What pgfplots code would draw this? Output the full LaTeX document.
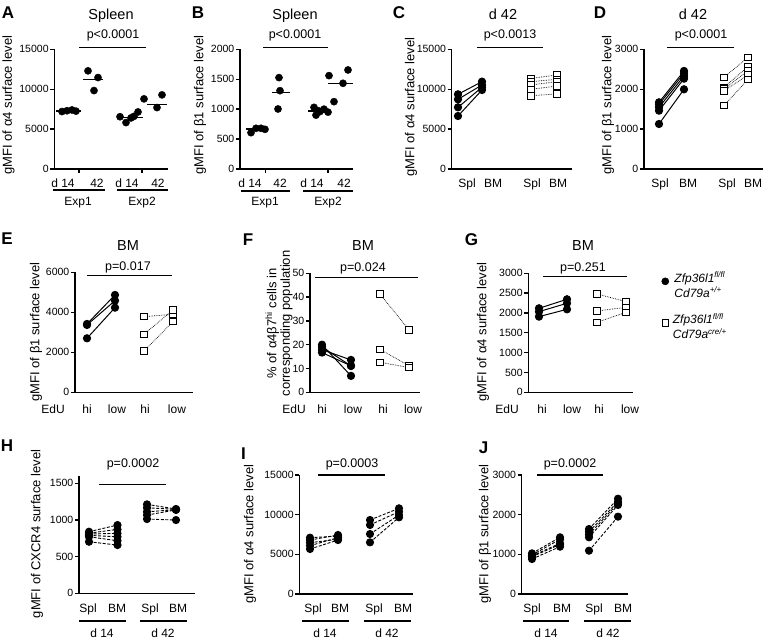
\documentclass[border=0pt]{standalone}
\usepackage{fontspec}
\setmainfont{Liberation Sans}
\setsansfont{Liberation Sans}
\usepackage{pgfplots}
\pgfplotsset{compat=1.18}
\pgfplotsset{
  prism/.style={scale only axis, anchor=south west, axis lines=left,
    axis line style={-, line width=1.3pt},
    tick align=outside, major tick length=4pt,
    tick style={black, line width=1.3pt},
    clip=false, ymin=0, xtick=\empty, scaled y ticks=false,
    yticklabel style={font=\fontsize{10.5}{12}\selectfont, inner sep=1.5pt},
    /pgf/number format/assume math mode=true,
    /pgf/number format/1000 sep={}},
  dot/.style={only marks, mark=*, mark size=3.6pt, black},
  meanl/.style={black, line width=1.4pt, no marks},
  g1/.style={black, line width=1pt, solid, mark=*, mark size=3.6pt, mark options={solid}},
  g2/.style={black, line width=0.7pt, densely dotted, mark=square*, mark size=3.3pt, mark options={solid, fill=white, line width=0.9pt}},
  g3/.style={black, line width=0.9pt, dash pattern=on 3pt off 1.6pt, mark=*, mark size=3.6pt, mark options={solid}},
}
\newcommand\pairplot[5]{\addplot[#1] coordinates {(#2,#3)(#4,#5)};}
\begin{document}
\begin{tikzpicture}[
 cat/.style={font=\fontsize{12}{14}\selectfont, inner sep=0pt, anchor=base},
 pv/.style={font=\fontsize{12.5}{14}\selectfont, inner sep=0pt, anchor=base},
 ttl/.style={font=\fontsize{14.5}{16}\selectfont, inner sep=0pt, anchor=base},
 yl/.style={font=\fontsize{13}{15}\selectfont, inner sep=0pt, rotate=90, anchor=center},
 plet/.style={font=\bfseries\fontsize{17}{19}\selectfont, inner sep=0pt, anchor=base},
 ul/.style={line width=1.3pt}
]
\path[use as bounding box] (0,-639pt) rectangle (764pt,0pt);

% ---------------- A ----------------
\begin{axis}[prism, at={(54.3pt,-169pt)}, width=113.7pt, height=119.7pt,
  xmin=54.3, xmax=168, ymax=15000, ytick={0,5000,10000,15000},
  xtick={79,142}, xticklabels={,,}]
\addplot[dot] coordinates {(62,7200)(67,7300)(72,7400)(76,7250)};
\addplot[meanl] coordinates {(56,7280)(81,7280)};
\addplot[dot] coordinates {(88,12300)(98,11460)(94,9830)};
\addplot[meanl] coordinates {(83,11240)(103,11240)};
\addplot[dot] coordinates {(120,6550)(126,5820)(131,6400)(134,6600)(138,7150)};
\addplot[meanl] coordinates {(117,6490)(143,6490)};
\addplot[dot] coordinates {(144,8790)(162,9290)(157,7700)};
\addplot[meanl] coordinates {(147,8110)(167,8110)};
\end{axis}
\node[plet] at (8pt,-18.6pt) {A};
\node[ttl] at (111pt,-19.2pt) {Spleen};
\node[pv] at (113pt,-38.5pt) {p<0.0001};
\draw[ul] (79pt,-47.7pt) -- (146pt,-47.7pt);
\node[yl] at (8.5pt,-105pt) {gMFI of α4 surface level};
\node[cat] at (63pt,-187.3pt) {d 14};
\node[cat] at (97pt,-187.3pt) {42};
\node[cat] at (127pt,-187.3pt) {d 14};
\node[cat] at (158pt,-187.3pt) {42};
\draw[ul] (53pt,-190pt) -- (105pt,-190pt);
\draw[ul] (117pt,-190pt) -- (168pt,-190pt);
\node[cat] at (78pt,-205.5pt) {Exp1};
\node[cat] at (142pt,-205.5pt) {Exp2};

% ---------------- B ----------------
\begin{axis}[prism, at={(240pt,-169pt)}, width=113pt, height=119.7pt,
  xmin=240, xmax=353, ymax=2000, ytick={0,500,1000,1500,2000},
  xtick={265.5,328}, xticklabels={,,}]
\addplot[dot] coordinates {(251,607)(256,680)(261,680)(265,663)};
\addplot[meanl] coordinates {(246,669)(266,669)};
\addplot[dot] coordinates {(279,1527)(280,1309)(278,1003)};
\addplot[meanl] coordinates {(272,1281)(290,1281)};
\addplot[dot] coordinates {(314,1030)(316,900)(320,960)(324,1000)(328,950)(318,975)};
\addplot[meanl] coordinates {(308,969)(330,969)};
\addplot[dot] coordinates {(329,1560)(348,1655)(343,1432)(334,1125)};
\addplot[meanl] coordinates {(328,1432)(353,1432)};
\end{axis}
\node[plet] at (198pt,-18.6pt) {B};
\node[ttl] at (295pt,-19.2pt) {Spleen};
\node[pv] at (295pt,-38.5pt) {p<0.0001};
\draw[ul] (263pt,-47.7pt) -- (328pt,-47.7pt);
\node[yl] at (200pt,-105pt) {gMFI of β1 surface level};
\node[cat] at (250pt,-187.3pt) {d 14};
\node[cat] at (280pt,-187.3pt) {42};
\node[cat] at (312pt,-187.3pt) {d 14};
\node[cat] at (344pt,-187.3pt) {42};
\draw[ul] (241pt,-191pt) -- (290pt,-191pt);
\draw[ul] (303pt,-191pt) -- (353pt,-191pt);
\node[cat] at (265pt,-205.5pt) {Exp1};
\node[cat] at (328pt,-205.5pt) {Exp2};

% ---------------- C ----------------
\begin{axis}[prism, at={(451.7pt,-169pt)}, width=120.3pt, height=119.7pt,
  xmin=451.7, xmax=572, ymax=15000, ytick={0,5000,10000,15000}]
\pairplot{g1}{458}{9360}{482}{10950}
\pairplot{g1}{458}{8730}{482}{10530}
\pairplot{g1}{458}{7730}{482}{10240}
\pairplot{g1}{458}{6640}{482}{9900}
\pairplot{g2}{531}{11360}{557}{11780}
\pairplot{g2}{531}{10950}{557}{11240}
\pairplot{g2}{531}{10530}{557}{10950}
\pairplot{g2}{531}{9990}{557}{10400}
\pairplot{g2}{531}{9190}{557}{9400}
\end{axis}
\node[plet] at (399pt,-18.6pt) {C};
\node[ttl] at (503pt,-19.2pt) {d 42};
\node[pv] at (510pt,-38.5pt) {p<0.0013};
\draw[ul] (477pt,-47.7pt) -- (543pt,-47.7pt);
\node[yl] at (411pt,-107pt) {gMFI of α4 surface level};
\node[cat] at (467pt,-187.3pt) {Spl};
\node[cat] at (493pt,-187.3pt) {BM};
\node[cat] at (532pt,-187.3pt) {Spl};
\node[cat] at (558pt,-187.3pt) {BM};

% ---------------- D ----------------
\begin{axis}[prism, at={(644pt,-169pt)}, width=119pt, height=119.7pt,
  xmin=644, xmax=763, ymax=3000, ytick={0,1000,2000,3000}]
\pairplot{g1}{659}{1128}{684}{1997}
\pairplot{g1}{659}{1462}{684}{2264}
\pairplot{g1}{659}{1546}{684}{2331}
\pairplot{g1}{659}{1621}{684}{2398}
\pairplot{g1}{659}{1671}{684}{2457}
\pairplot{g2}{724}{2298}{748}{2799}
\pairplot{g2}{724}{2047}{748}{2565}
\pairplot{g2}{724}{2000}{748}{2465}
\pairplot{g2}{724}{1960}{748}{2356}
\pairplot{g2}{724}{1588}{748}{2248}
\end{axis}
\node[plet] at (600pt,-18.6pt) {D};
\node[ttl] at (693pt,-19.2pt) {d 42};
\node[pv] at (701pt,-38.5pt) {p<0.0001};
\draw[ul] (667pt,-47.7pt) -- (734pt,-47.7pt);
\node[yl] at (608pt,-105pt) {gMFI of β1 surface level};
\node[cat] at (660pt,-187.3pt) {Spl};
\node[cat] at (688pt,-187.3pt) {BM};
\node[cat] at (727pt,-187.3pt) {Spl};
\node[cat] at (753pt,-187.3pt) {BM};

% ---------------- E ----------------
\begin{axis}[prism, at={(75pt,-392.3pt)}, width=118pt, height=120pt,
  xmin=75, xmax=193, ymax=6000, ytick={0,2000,4000,6000}]
\pairplot{g1}{87}{3417}{115}{4867}
\pairplot{g1}{87}{3367}{115}{4583}
\pairplot{g1}{87}{2700}{115}{4233}
\pairplot{g2}{144}{3783}{173}{3900}
\pairplot{g2}{144}{2900}{173}{4117}
\pairplot{g2}{144}{2067}{173}{3533}
\end{axis}
\node[plet] at (7pt,-244.6pt) {E};
\node[ttl] at (128pt,-250.2pt) {BM};
\node[pv] at (128pt,-270.2pt) {p=0.017};
\draw[ul] (87pt,-275.7pt) -- (172pt,-275.7pt);
\node[yl] at (36pt,-332pt) {gMFI of β1 surface level};
\node[cat] at (53pt,-413.3pt) {EdU};
\node[cat] at (87pt,-413.3pt) {hi};
\node[cat] at (117pt,-413.3pt) {low};
\node[cat] at (145pt,-413.3pt) {hi};
\node[cat] at (177pt,-413.3pt) {low};

% ---------------- F ----------------
\begin{axis}[prism, at={(310pt,-392.3pt)}, width=110pt, height=119pt,
  xmin=310, xmax=420, ymax=50, ytick={0,10,20,30,40,50}]
\pairplot{g1}{322}{20}{351}{6.9}
\pairplot{g1}{322}{19}{351}{11.1}
\pairplot{g1}{322}{17.9}{351}{13.6}
\pairplot{g1}{322}{16.7}{351}{11.1}
\pairplot{g2}{380}{41.3}{409}{26.2}
\pairplot{g2}{380}{18}{409}{11.2}
\pairplot{g2}{380}{12.6}{409}{10.4}
\end{axis}
\node[plet] at (248pt,-245.6pt) {F};
\node[ttl] at (363pt,-250.2pt) {BM};
\node[pv] at (363pt,-271.2pt) {p=0.024};
\draw[ul] (315pt,-277.3pt) -- (418pt,-277.3pt);
\node[yl, align=center, font=\fontsize{13}{13.5}\selectfont] at (279pt,-323.5pt) {\% of α4β7\textsuperscript{hi} cells in\\corresponding population};
\node[cat] at (294pt,-413.3pt) {EdU};
\node[cat] at (322pt,-413.3pt) {hi};
\node[cat] at (353pt,-413.3pt) {low};
\node[cat] at (383pt,-413.3pt) {hi};
\node[cat] at (413pt,-413.3pt) {low};

% ---------------- G ----------------
\begin{axis}[prism, at={(528.3pt,-392.3pt)}, width=104.7pt, height=119pt,
  xmin=528.3, xmax=633, ymax=3000, ytick={0,500,1000,1500,2000,2500,3000},
  legend style={at={(axis description cs:1.272,0.758)}, anchor=west, draw=none, fill=none,
    inner sep=0pt, column sep=3pt, row sep=20pt, nodes={inner sep=1pt},
    font=\itshape\fontsize{12}{15}\selectfont}]
\addlegendimage{only marks, mark=*, mark size=3.6pt, black}
\addlegendentry{\begin{tabular}[c]{@{}l@{}}Zfp36l1\textsuperscript{fl/fl}\\Cd79a\textsuperscript{+/+}\end{tabular}}
\addlegendimage{only marks, mark=square*, mark size=3.3pt, black, mark options={fill=white, line width=0.9pt}}
\addlegendentry{\begin{tabular}[c]{@{}l@{}}Zfp36l1\textsuperscript{fl/fl}\\Cd79a\textsuperscript{cre/+}\end{tabular}}
\pairplot{g1}{539}{1908}{567}{2092}
\pairplot{g1}{539}{2034}{567}{2244}
\pairplot{g1}{539}{2118}{567}{2345}
\pairplot{g2}{597}{2479}{626}{2286}
\pairplot{g2}{597}{2050}{626}{2143}
\pairplot{g2}{597}{1765}{626}{2017}
\end{axis}
\node[plet] at (471.5pt,-245.6pt) {G};
\node[ttl] at (583pt,-250.2pt) {BM};
\node[pv] at (583pt,-271.2pt) {p=0.251};
\draw[ul] (543pt,-276.7pt) -- (627pt,-276.7pt);
\node[yl] at (483pt,-332pt) {gMFI of α4 surface level};
\node[cat] at (507pt,-413.3pt) {EdU};
\node[cat] at (542pt,-413.3pt) {hi};
\node[cat] at (572pt,-413.3pt) {low};
\node[cat] at (599pt,-413.3pt) {hi};
\node[cat] at (630pt,-413.3pt) {low};

% ---------------- H ----------------
\begin{axis}[prism, at={(79pt,-593.3pt)}, width=116pt, height=117.3pt,
  xmin=79, xmax=195, ymax=1600, ytick={0,500,1000,1500}]
\pairplot{g3}{89}{840}{117.5}{931}
\pairplot{g3}{89}{820}{117.5}{872}
\pairplot{g3}{89}{808}{117.5}{818}
\pairplot{g3}{89}{790}{117.5}{771}
\pairplot{g3}{89}{771}{117.5}{717}
\pairplot{g3}{89}{703}{117.5}{658}
\pairplot{g3}{147}{1213}{176}{1150}
\pairplot{g3}{147}{1167}{176}{1145}
\pairplot{g3}{147}{1112}{176}{1140}
\pairplot{g3}{147}{1067}{176}{1138}
\pairplot{g3}{147}{1013}{176}{999}
\end{axis}
\node[plet] at (7pt,-451.1pt) {H};
\node[pv] at (133pt,-467.2pt) {p=0.0002};
\draw[ul] (99pt,-484.3pt) -- (166pt,-484.3pt);
\node[yl] at (37pt,-534pt) {gMFI of CXCR4 surface level};
\node[cat] at (88pt,-612.6pt) {Spl};
\node[cat] at (117pt,-612.6pt) {BM};
\node[cat] at (150pt,-612.6pt) {Spl};
\node[cat] at (178pt,-612.6pt) {BM};
\draw[ul] (79pt,-621pt) -- (126pt,-621pt);
\draw[ul] (140pt,-621pt) -- (187pt,-621pt);
\node[cat] at (102pt,-637pt) {d 14};
\node[cat] at (163pt,-637pt) {d 42};

% ---------------- I ----------------
\begin{axis}[prism, at={(299.3pt,-594pt)}, width=113.7pt, height=119pt,
  xmin=299.3, xmax=413, ymax=15000, ytick={0,5000,10000,15000}]
\pairplot{g3}{310}{7100}{338}{7300}
\pairplot{g3}{310}{6800}{338}{7440}
\pairplot{g3}{310}{6470}{338}{6900}
\pairplot{g3}{310}{6090}{338}{7100}
\pairplot{g3}{310}{5670}{338}{6800}
\pairplot{g3}{370}{9330}{399}{10800}
\pairplot{g3}{370}{8700}{399}{10380}
\pairplot{g3}{370}{7560}{399}{9960}
\pairplot{g3}{370}{6510}{399}{9660}
\end{axis}
\node[plet] at (243.5pt,-459.6pt) {I};
\node[pv] at (352pt,-467.5pt) {p=0.0003};
\draw[ul] (318pt,-475pt) -- (385pt,-475pt);
\node[yl] at (250pt,-534pt) {gMFI of α4 surface level};
\node[cat] at (313pt,-612.6pt) {Spl};
\node[cat] at (340pt,-612.6pt) {BM};
\node[cat] at (374pt,-612.6pt) {Spl};
\node[cat] at (403pt,-612.6pt) {BM};
\draw[ul] (302pt,-621pt) -- (349pt,-621pt);
\draw[ul] (364pt,-621pt) -- (411pt,-621pt);
\node[cat] at (325pt,-637pt) {d 14};
\node[cat] at (387pt,-637pt) {d 42};

% ---------------- J ----------------
\begin{axis}[prism, at={(521.7pt,-594pt)}, width=106.3pt, height=119pt,
  xmin=521.7, xmax=628, ymax=3000, ytick={0,1000,2000,3000}]
\pairplot{g3}{532}{1025}{560}{1429}
\pairplot{g3}{532}{983}{560}{1378}
\pairplot{g3}{532}{960}{560}{1277}
\pairplot{g3}{532}{941}{560}{1250}
\pairplot{g3}{532}{882}{560}{1193}
\pairplot{g3}{589}{1092}{618}{1950}
\pairplot{g3}{589}{1429}{618}{2244}
\pairplot{g3}{589}{1500}{618}{2290}
\pairplot{g3}{589}{1571}{618}{2328}
\pairplot{g3}{589}{1639}{618}{2403}
\end{axis}
\node[plet] at (483.5pt,-453.6pt) {J};
\node[pv] at (570pt,-467.5pt) {p=0.0002};
\draw[ul] (537pt,-475pt) -- (603pt,-475pt);
\node[yl] at (485pt,-534pt) {gMFI of β1 surface level};
\node[cat] at (532pt,-612.6pt) {Spl};
\node[cat] at (562pt,-612.6pt) {BM};
\node[cat] at (594pt,-612.6pt) {Spl};
\node[cat] at (623pt,-612.6pt) {BM};
\draw[ul] (523pt,-621pt) -- (569pt,-621pt);
\draw[ul] (584pt,-621pt) -- (631pt,-621pt);
\node[cat] at (546pt,-637pt) {d 14};
\node[cat] at (608pt,-637pt) {d 42};
\end{tikzpicture}
\end{document}
